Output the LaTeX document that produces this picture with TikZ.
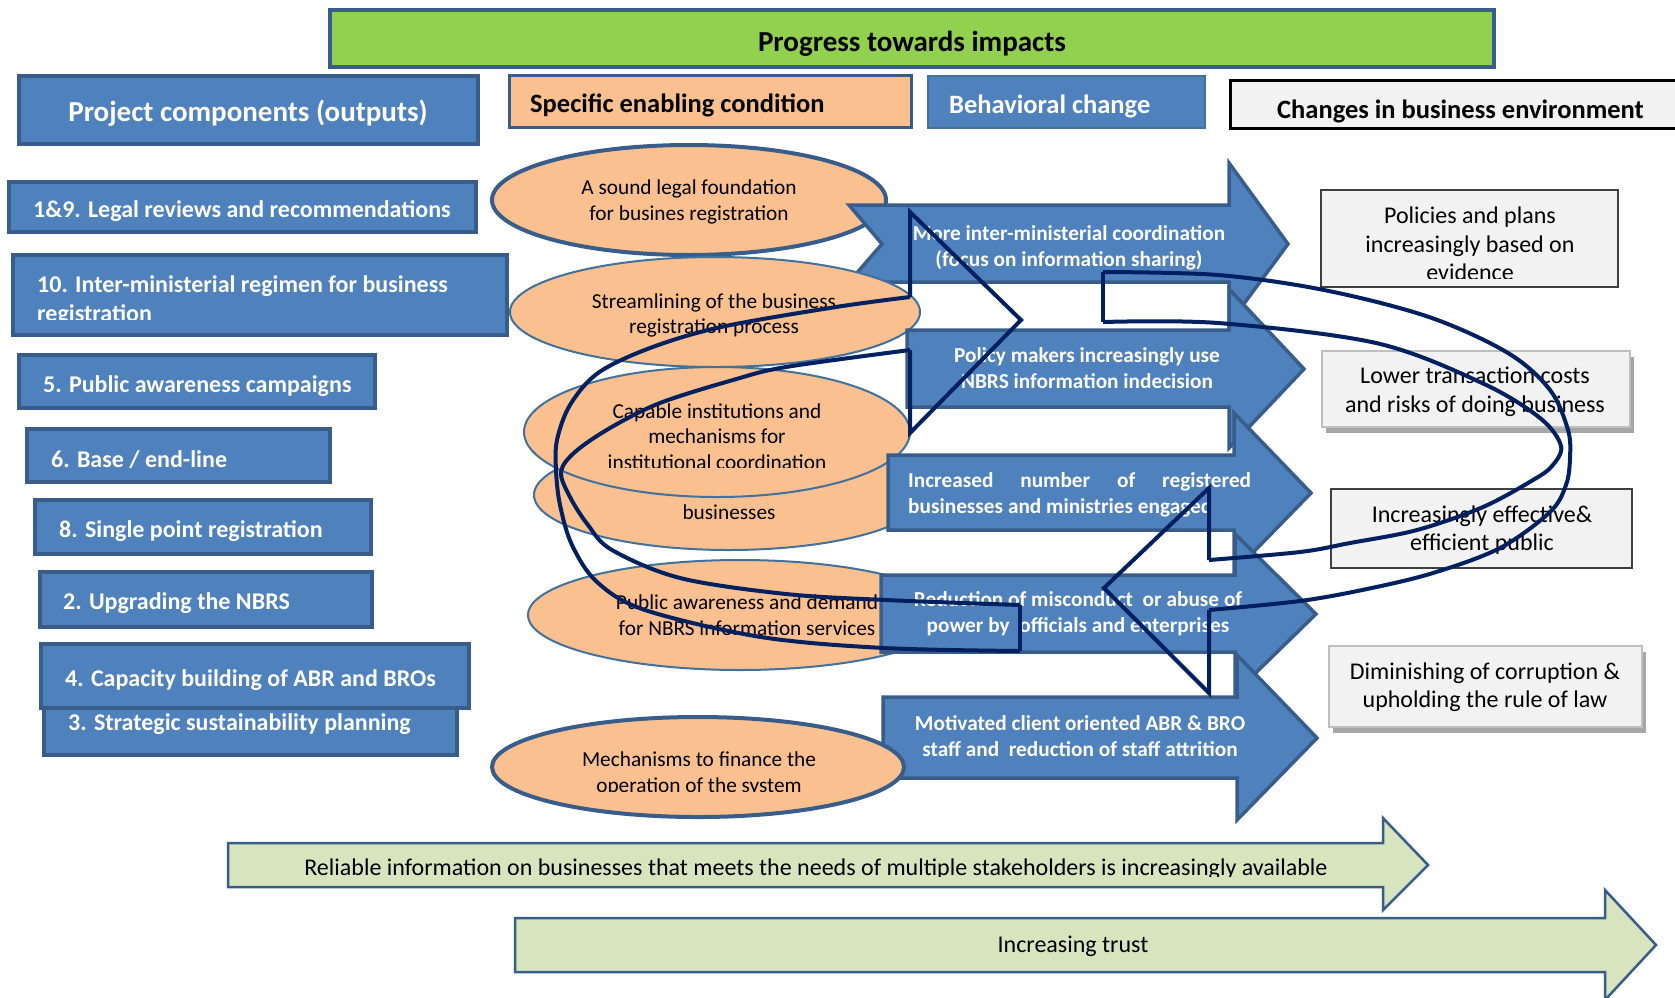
\documentclass[tikz,border=0pt]{standalone}
\usepackage{fontspec}
\setmainfont{Carlito}
\definecolor{boxblue}{HTML}{4F81BD}
\definecolor{edgeblue}{HTML}{385D8A}
\definecolor{thinblue}{HTML}{41719C}
\definecolor{peach}{HTML}{FAC090}
\definecolor{headgreen}{HTML}{92D050}
\definecolor{palegreen}{HTML}{D7E4BD}
\definecolor{panel}{HTML}{F2F2F2}
\definecolor{navyline}{HTML}{002060}
\definecolor{shadowgray}{HTML}{A6A6A6}
\definecolor{lightedge}{HTML}{BFBFBF}
\newcommand\myfs[2]{\fontsize{#1}{#2}\selectfont}

\begin{document}
\begin{tikzpicture}[x=1pt,y=-1pt,
  outbox/.style={fill=boxblue,draw=edgeblue,line width=4},
  outtext/.style={anchor=west,inner sep=0,text=white,font=\myfs{24}{29}\bfseries,align=left},
  condell/.style={fill=peach,draw=thinblue,line width=2},
  condellthick/.style={fill=peach,draw=edgeblue,line width=4},
  condtext/.style={inner sep=0,align=center,font=\myfs{21.3}{25.5}},
  behavarrow/.style={fill=boxblue,draw=edgeblue,line width=3.5},
  behavtext/.style={inner sep=0,align=center,text=white,font=\myfs{21.3}{26}\bfseries},
  envbox/.style={fill=panel,draw=black!75,line width=1.5},
  envboxsoft/.style={fill=panel,draw=lightedge,line width=1.5},
  envtext/.style={inner sep=0,align=center,font=\myfs{24}{28.5}},
  trendarrow/.style={fill=palegreen,draw=edgeblue,line width=2.5},
  trendtext/.style={inner sep=0,font=\myfs{24}{28}},
  cycleline/.style={draw=navyline,line width=4,line join=miter},
  headtext/.style={inner sep=0,font=\myfs{26.5}{32}\bfseries}
]
\useasboundingbox (0,0) rectangle (1675,997);
\clip (0,0) rectangle (1675,997);
\fill[white] (0,0) rectangle (1675,997);

% ---------- column headers ----------
\draw[fill=headgreen,draw=edgeblue,line width=4.5] (330,10) rectangle (1494,67);
\node[inner sep=0,font=\myfs{29}{34}\bfseries] (progress) at (912,44) {Progress towards impacts};

\draw[outbox,line width=4.5] (19,76) rectangle (478,144);
\node[inner sep=0,text=white,font=\myfs{29}{34}\bfseries] (components) at (248,113) {Project components (outputs)};

\draw[fill=peach,draw=edgeblue,line width=3] (509,75) rectangle (911,127);
\node[headtext,anchor=west] (enabling) at (530,105.5) {Specific enabling condition};

\draw[fill=boxblue,draw=thinblue,line width=2] (928,76) rectangle (1205,128);
\node[headtext,anchor=west,text=white] (behaviour) at (949,106.5) {Behavioral change};

\draw[fill=panel,draw=black,line width=3] (1230,80) rectangle (1700,128);
\node[headtext,anchor=west] (environment) at (1277,111) {Changes in business environment};

% ---------- project components ----------
\draw[outbox] (9,182) rectangle (476,232);
\node[outtext] (out19) at (33,211.5) {1\&9. Legal reviews and recommendations};

\draw[outbox] (13,255) rectangle (507,335);
\begin{scope}
  \clip (0,0) rectangle (1675,319);
  \node[outtext] (out10) at (37,301) {10. Inter-ministerial regimen for business\\registration};
\end{scope}

\draw[outbox] (19,355) rectangle (375,408);
\node[outtext] (out5) at (43,386.5) {5. Public awareness campaigns};

\draw[outbox] (27,429) rectangle (330,482);
\node[outtext] (out6) at (51,459.5) {6. Base / end-line};

\draw[outbox] (35,500) rectangle (371,554);
\node[outtext] (out8) at (59,531) {8. Single point registration};

\draw[outbox] (40,572) rectangle (372,627);
\node[outtext] (out2) at (63,603.5) {2. Upgrading the NBRS};

\draw[outbox] (44,690) rectangle (457,755);
\node[outtext] (out3) at (68,724.5) {3. Strategic sustainability planning};

\draw[outbox] (41,644) rectangle (469,708);
\node[outtext] (out4) at (65,680) {4. Capacity building of ABR and BROs};

% ---------- trend arrows along the bottom ----------
\draw[trendarrow] (228,843) -- (1383,843) -- (1383,818) -- (1428,865) -- (1383,910) -- (1383,887) -- (228,887) -- cycle;
\begin{scope}
  \clip (0,0) rectangle (1675,876);
  \node[trendtext] (reliable) at (816,869) {Reliable information on businesses that meets the needs of multiple stakeholders is increasingly available};
\end{scope}

\draw[trendarrow] (515,918) -- (1605,918) -- (1605,890) -- (1656,945) -- (1605,1000) -- (1605,972) -- (515,972) -- cycle;
\node[trendtext] (trust) at (1073,946) {Increasing trust};

% ---------- enabling conditions and behavioural changes ----------
\draw[condellthick] (689,200) ellipse [x radius=197, y radius=55];
\node[condtext] (legal) at (689,202) {A sound legal foundation\\for busines registration};

\draw[behavarrow] (849,205) -- (1229,205) -- (1229,163) -- (1288,244) -- (1229,324) -- (1229,282) -- (849,282) -- (882,244) -- cycle;
\node[behavtext] (coord) at (1069,248) {More inter-ministerial coordination\\(focus on information sharing)};

\draw[condell] (715,312) ellipse [x radius=205, y radius=55];
\node[condtext] (stream) at (714,315.5) {Streamlining of the business\\registration process};

\draw[behavarrow] (907,330) -- (1229,330) -- (1229,289) -- (1304,369) -- (1229,448) -- (1229,407) -- (907,407) -- cycle;
\node[behavtext] (policy) at (1087,368.5) {Policy makers increasingly use\\NBRS information indecision};

\draw[condell] (729,495) ellipse [x radius=195, y radius=55];
\node[condtext] (biz) at (729,512) {businesses};

\draw[condell] (717,432) ellipse [x radius=193, y radius=65];
\begin{scope}
  \clip (0,0) rectangle (1675,467.5);
  \node[condtext] (capable) at (717,436.5) {Capable institutions and\\mechanisms for\\institutional coordination};
\end{scope}

\draw[behavarrow] (888,455) -- (1234,455) -- (1234,413) -- (1311,493) -- (1234,572) -- (1234,530) -- (888,530) -- cycle;
\node[behavtext,anchor=west,align=left] (regist) at (908,495) {\makebox[343pt][s]{Increased number of registered}\\businesses and ministries engaged};

\draw[condell] (740,615) ellipse [x radius=212, y radius=55];
\node[condtext] (demand) at (747,615) {Public awareness and demand\\for NBRS information services};

\draw[behavarrow] (881,575) -- (1235,575) -- (1235,534) -- (1316,614) -- (1235,693) -- (1235,652) -- (881,652) -- cycle;
\node[behavtext] (misconduct) at (1078,613.5) {Reduction of misconduct\ \ or abuse of\\power by\ \ officials and enterprises};

\draw[behavarrow] (883,697) -- (1237,697) -- (1237,655) -- (1317,738) -- (1237,820) -- (1237,778) -- (883,778) -- cycle;
\node[behavtext] (staff) at (1080,736) {Motivated client oriented ABR \& BRO\\staff and\ \ reduction of staff attrition};

\draw[condellthick] (698,767) ellipse [x radius=206, y radius=50];
\begin{scope}
  \clip (0,0) rectangle (1675,791);
  \node[condtext] (finance) at (699,774) {Mechanisms to finance the\\operation of the system};
\end{scope}

% ---------- changes in the business environment ----------
\draw[envbox] (1321,190) rectangle (1618,287);
\begin{scope}
  \clip (0,0) rectangle (1675,278);
  \node[envtext] (evidence) at (1470,244) {Policies and plans\\increasingly based on\\evidence};
\end{scope}

\fill[shadowgray] (1326,357) rectangle (1634,433);
\draw[envboxsoft] (1322,351) rectangle (1630,427);
\node[envtext] (costs) at (1475,392) {Lower transaction costs\\and risks of doing business};

\draw[envbox] (1331,489) rectangle (1632,568);
\node[envtext] (public) at (1482,530) {Increasingly effective\&\\efficient public};

\fill[shadowgray] (1333,652) rectangle (1646,733);
\draw[envboxsoft] (1329,646) rectangle (1642,727);
\node[envtext] (corruption) at (1485,687) {Diminishing of corruption \&\\upholding the rule of law};

% ---------- feedback loops ----------
% left loop, arrowhead pointing right
\draw[cycleline] (910,297) -- (910,212) -- (1021,320) -- (910,433) -- (910,350);
\draw[cycleline] (1020,605) -- (1020,651);
\draw[cycleline] plot[smooth,tension=0.55] coordinates {(910,297) (836,307) (721,327) (650,348) (598,373) (570,405) (557,440) (556,470) (560,505) (572,545) (597,582) (645,610) (761,637) (884,648) (1020,651)};
\draw[cycleline] plot[smooth,tension=0.55] coordinates {(910,350) (786,367) (733,380) (660,403) (610,428) (575,452) (561,472) (570,497) (588,525) (612,550) (680,578) (786,594) (886,600) (1020,605)};

% right loop, arrowhead pointing left
\draw[cycleline] (1209,560) -- (1209,488) -- (1104,588) -- (1209,693) -- (1209,610);
\draw[cycleline] (1103,272) -- (1103,322);
\draw[cycleline] plot[smooth,tension=0.55] coordinates {(1103,272) (1218,275) (1324,290) (1429,317) (1508,353) (1550,390) (1568,430) (1570,458) (1566,485) (1550,512) (1500,548) (1433,573) (1367,589) (1300,601) (1209,610)};
\draw[cycleline] plot[smooth,tension=0.55] coordinates {(1103,322) (1218,323) (1376,343) (1482,383) (1540,418) (1561,446) (1552,466) (1533,480) (1483,507) (1417,530) (1350,543) (1300,552) (1209,560)};

\end{tikzpicture}
\end{document}
